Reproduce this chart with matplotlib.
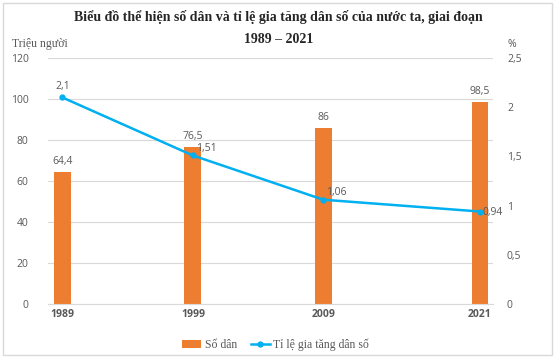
import matplotlib.pyplot as plt
from matplotlib.patches import Rectangle
from matplotlib.ticker import FuncFormatter

years = [1989, 1999, 2009, 2021]
so_dan = [64.4, 76.5, 86, 98.5]
ti_le = [2.1, 1.51, 1.06, 0.94]
left_ticks = [0, 20, 40, 60, 80, 100, 120]
right_ticks = [0, 0.5, 1, 1.5, 2, 2.5]

BAR_COLOR = "#ED7D31"
LINE_COLOR = "#00B0F0"
TXT = "#595959"
SERIF = "Liberation Serif"
SANS = "Open Sans"


def vn(v):
    # comma decimals, like the original sheet
    return ("%g" % v).replace(".", ",")


fig = plt.figure(figsize=(5.57, 3.61), dpi=100)
fig.patches.append(Rectangle((0.006, 0.016), 0.985, 0.975, transform=fig.transFigure,
                             fill=False, edgecolor="#D9D9D9", linewidth=1))

ax = fig.add_axes([0.0862, 0.158, 0.799, 0.681])
ax.bar(years, so_dan, width=1.3, color=BAR_COLOR, zorder=2, label="Số dân")
ax.set_ylim(0, 120)
ax.set_xlim(1987.9, 2022.0)
ax.set_yticks(left_ticks)
ax.grid(axis="y", color="#D9D9D9", linewidth=0.8, zorder=0)
ax.set_axisbelow(True)
for s in ["top", "right", "left"]:
    ax.spines[s].set_visible(False)
ax.spines["bottom"].set_color("#D9D9D9")
ax.tick_params(axis="both", length=0, colors=TXT)
ax.tick_params(axis="y", labelsize=7.5, pad=14)
ax.set_xticks(years)
ax.set_xticklabels([str(y) for y in years], fontsize=7.5, fontweight="bold",
                   fontfamily=SANS, color=TXT)
for lab in ax.get_yticklabels():
    lab.set_fontfamily(SANS)
for x, v in zip(years, so_dan):
    ax.text(x, v + 2.5, vn(v), ha="center", va="bottom", fontsize=7.5,
            fontfamily=SANS, color=TXT)

ax2 = ax.twinx()
ax2.plot(years, ti_le, color=LINE_COLOR, linewidth=1.8, marker="o", markersize=3.5,
         zorder=3, label="Tỉ lệ gia tăng dân số")
ax2.set_ylim(0, 2.5)
ax2.set_yticks(right_ticks)
ax2.yaxis.set_major_formatter(FuncFormatter(lambda v, p: vn(v)))
for s in ["top", "right", "left", "bottom"]:
    ax2.spines[s].set_visible(False)
ax2.tick_params(axis="y", length=0, colors=TXT, labelsize=7.5, pad=10)
for lab in ax2.get_yticklabels():
    lab.set_fontfamily(SANS)

offsets = [(0, 8, "center"), (2, 5, "left"), (2, 5, "left"), (2, -1, "left")]
for (x, v), (dx, dy, ha) in zip(zip(years, ti_le), offsets):
    ax2.annotate(vn(v), (x, v), xytext=(dx, dy), textcoords="offset points",
                 ha=ha, va="center", fontsize=7.5, fontfamily=SANS, color=TXT)

fig.text(0.5, 0.952, "Biểu đồ thể hiện số dân và tỉ lệ gia tăng dân số của nước ta, giai đoạn",
         ha="center", va="center", fontsize=10, fontweight="bold", fontfamily=SERIF, color="#262626")
fig.text(0.5, 0.890, "1989 – 2021", ha="center", va="center", fontsize=10,
         fontweight="bold", fontfamily=SERIF, color="#262626")
fig.text(0.022, 0.878, "Triệu người", ha="left", va="center", fontsize=8.5,
         fontfamily=SERIF, color=TXT)
fig.text(0.912, 0.878, "%", ha="left", va="center", fontsize=7.5,
         fontfamily=SANS, color=TXT)

h1, l1 = ax.get_legend_handles_labels()
h2, l2 = ax2.get_legend_handles_labels()
leg = fig.legend(h1 + h2, l1 + l2, loc="center", bbox_to_anchor=(0.495, 0.045), ncol=2,
                 frameon=False, prop={"family": SERIF, "size": 8.5}, handlelength=1.6,
                 handletextpad=0.3, columnspacing=1.2)
for t in leg.get_texts():
    t.set_color(TXT)

plt.savefig("out.png", dpi=100)
